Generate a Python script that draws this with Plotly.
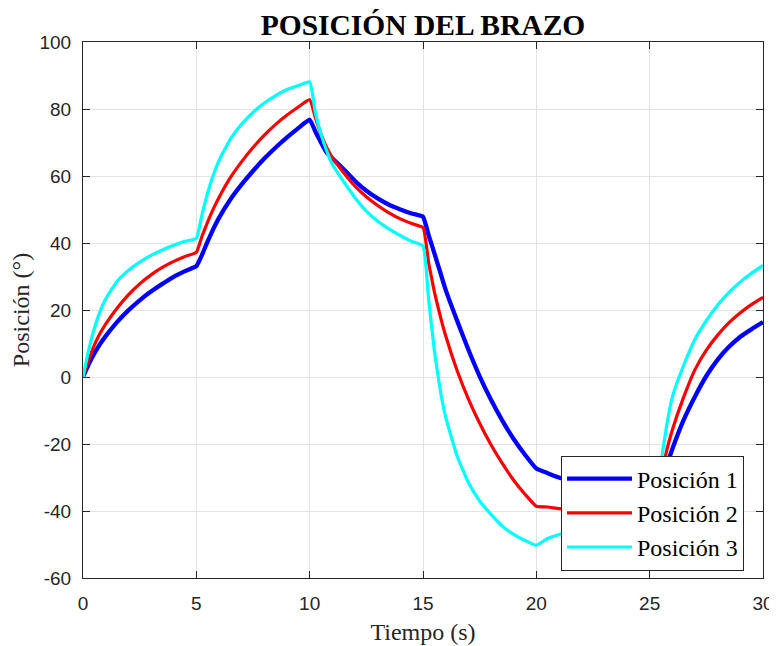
import plotly.graph_objects as go

# Time samples (s)
tiempo = [0, 0.25, 0.5, 0.75, 1, 1.5, 2, 2.5, 3, 3.5, 4, 4.5, 5,
          5.25, 5.5, 5.75, 6, 6.5, 7, 7.5, 8, 8.5, 9, 9.5, 10,
          10.25, 10.5, 10.75, 11, 11.5, 12, 12.5, 13, 13.5, 14, 14.5, 15,
          15.25, 15.5, 15.75, 16, 16.5, 17, 17.5, 18, 18.5, 19, 19.5, 20,
          20.5, 21, 22, 23, 24, 25,
          25.25, 25.5, 25.75, 26, 26.5, 27, 27.5, 28, 28.5, 29, 29.5, 30]

posicion_1 = [0, 3.8, 7, 9.8, 12.2, 16.4, 19.9, 22.9, 25.5, 27.8, 29.9, 31.6, 33.1,
              36.5, 40.5, 44.2, 47.5, 53, 57.5, 61.5, 65.2, 68.5, 71.5, 74.3, 76.8,
              73.3, 70, 67, 65.3, 62, 58.5, 55.6, 53.3, 51.4, 50, 48.8, 47.8,
              42.3, 37, 31.5, 26, 16.9, 8.2, 0.2, -6.8, -13, -18.5, -23.2, -27.3,
              -28.7, -30, -32.2, -34.2, -36, -37.5,
              -35, -31.5, -26.5, -21.5, -12.8, -5.8, 0.3, 5.2, 9.0, 12.0, 14.3, 16.4]

posicion_2 = [0, 5, 9.5, 13, 15.8, 20.5, 24.5, 27.8, 30.5, 32.7, 34.5, 36, 37.2,
              42, 46.3, 50.2, 53.6, 59.5, 64.3, 68.5, 72.2, 75.4, 78.2, 80.6, 82.8,
              77.5, 72.5, 68.5, 65.5, 61, 57, 53.8, 51.2, 49, 47.2, 45.8, 44.6,
              34, 25.5, 18.5, 12.3, 2, -6.5, -13.8, -20.2, -25.8, -30.8, -35, -38.6,
              -38.8, -39.3, -39.8, -40.2, -40.5, -40.8,
              -36.5, -30, -22, -15.8, -6, 2.2, 8.0, 12.5, 16.2, 19.2, 21.7, 23.8]

posicion_3 = [0, 8, 14.5, 19.5, 23.3, 28.5, 31.8, 34.3, 36.3, 37.9, 39.3, 40.5, 41.4,
              48.5, 55, 60.3, 64.6, 71, 75.5, 79, 81.8, 84, 85.8, 87, 88.1,
              79, 72.5, 67.5, 63.5, 58.3, 53.5, 49.5, 46.5, 44.2, 42.2, 40.5, 39.1,
              23, 8, -3.5, -12, -23.5, -31.5, -37, -41, -44.5, -47, -48.8, -50.2,
              -48.2, -47, -45.3, -44, -43, -42.2,
              -36, -25.5, -14.5, -6, 3.5, 11.3, 16.8, 21.5, 25.3, 28.4, 31, 33.3]

nombres = ["Posición 1", "Posición 2", "Posición 3"]
series = [posicion_1, posicion_2, posicion_3]
colores = ["#0000FF", "#FF0000", "#00FFFF"]
anchos = [4.3, 3.2, 3.2]

x_ticks = [0, 5, 10, 15, 20, 25, 30]
y_ticks = [-60, -40, -20, 0, 20, 40, 60, 80, 100]

SERIF = "Liberation Serif"
SANS = "Liberation Sans"

# page body has an 8px margin, so the figure is 8px smaller than the window
W, H = 769, 638
ML, MR, MT, MB = 75, 14, 34, 68

fig = go.Figure()
for nombre, datos, color, ancho in zip(nombres, series, colores, anchos):
    fig.add_trace(go.Scatter(x=tiempo, y=datos, mode="lines", name=nombre,
                             line=dict(color=color, width=ancho, shape="spline", smoothing=0.4)))

axis_color = "#262626"
grid_color = "#e3e3e3"
common = dict(showline=True, linecolor=axis_color, linewidth=1, mirror="ticks",
              ticks="inside", ticklen=7, tickcolor=axis_color, tickwidth=1,
              showgrid=True, gridcolor=grid_color, gridwidth=1, zeroline=False,
              automargin=False,
              tickfont=dict(family=SANS, size=19, color=axis_color))

fig.update_xaxes(range=[0, 30], tickvals=x_ticks, ticktext=[str(v) for v in x_ticks],
                 title=dict(text="Tiempo (s)", standoff=10,
                            font=dict(family=SERIF, size=24, color=axis_color)),
                 ticklabelstandoff=8, **common)
fig.update_yaxes(range=[-60, 100], tickvals=y_ticks, ticktext=[str(v) for v in y_ticks],
                 title=dict(text="Posición (°)", standoff=5,
                            font=dict(family=SERIF, size=24, color=axis_color)),
                 ticklabelstandoff=7, **common)

plot_w = W - ML - MR
plot_h = H - MT - MB
fig.update_layout(
    width=W, height=H,
    margin=dict(l=ML, r=MR, t=MT, b=MB, autoexpand=False),
    paper_bgcolor="white", plot_bgcolor="white",
    title=dict(text="<b>POSICIÓN DEL BRAZO</b>", x=415 / W, xanchor="center",
               y=1 - 17 / H, yanchor="middle", yref="container",
               font=dict(family=SERIF, size=29.5, color="black")),
    legend=dict(x=(553 - ML) / plot_w, xanchor="left",
                y=1 - (505 - MT) / plot_h, yanchor="middle",
                bgcolor="white", bordercolor=axis_color, borderwidth=1,
                font=dict(family=SERIF, size=24, color="black"),
                itemwidth=65, tracegroupgap=0),
    showlegend=True,
)

fig.write_html("out.html")
